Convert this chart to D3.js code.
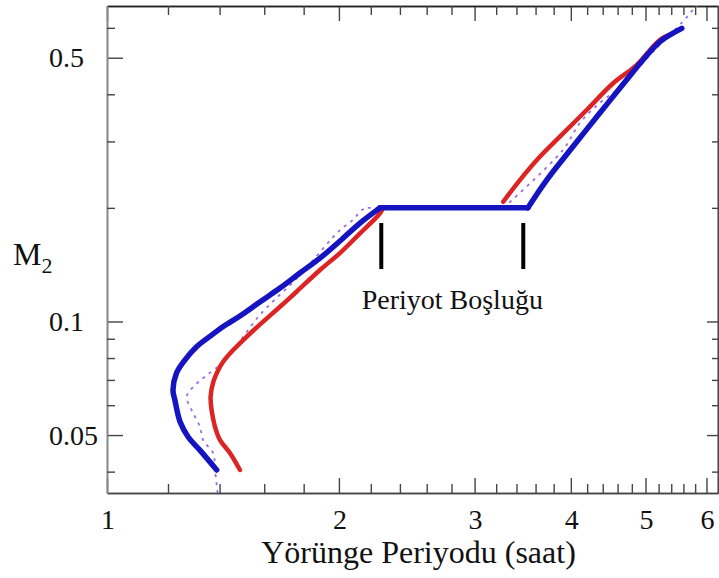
<!DOCTYPE html>
<html><head><meta charset="utf-8">
<script src="https://cdn.jsdelivr.net/npm/d3@7"></script>
<style>body{margin:0;background:#fff}svg{display:block}text{font-family:"Liberation Serif","Times New Roman",serif;fill:#111}</style>
</head><body>
<svg id="c" width="719" height="578"></svg>
<script>
// ---- data ----
const bluePeriod = [1.388,1.320,1.274,1.244,1.225,1.218,1.231,1.262,1.307,1.367,1.414,1.488,1.579,1.677,1.780,1.890,2.006,2.130,2.261,3.518,3.721,4.024,4.362,4.724,4.962,5.218,5.573];
const blueMass   = [0.0404,0.0456,0.0495,0.0542,0.0619,0.0658,0.0730,0.0790,0.0857,0.0920,0.0968,0.1034,0.1126,0.1226,0.1344,0.1472,0.1634,0.1823,0.2,0.2,0.237,0.2904,0.3568,0.4364,0.493,0.551,0.598];
const redPeriod  = [1.488,1.444,1.402,1.381,1.367,1.363,1.374,1.394,1.415,1.458,1.518,1.595,1.677,1.762,1.890,2.006,2.130,2.261,2.281,NaN,3.268,3.435,3.646,3.871,4.194,4.539,4.868,5.218,5.430];
const redMass    = [0.0404,0.0448,0.0485,0.0526,0.0582,0.0632,0.0692,0.0743,0.0782,0.0840,0.0911,0.0999,0.1094,0.1199,0.1369,0.1518,0.1712,0.1935,0.2,NaN,0.2076,0.237,0.2732,0.3088,0.3634,0.4277,0.478,0.557,0.580];
const dotPeriod  = [1.392,1.381,1.374,1.333,1.320,1.288,1.269,1.294,1.340,1.423,1.579,1.780,2.006,2.085,2.142,2.18,3.27,3.906,4.109,4.362,4.589,4.771,5.14,5.59,5.76,5.88];
const dotMass    = [0.0351,0.0404,0.0447,0.0485,0.0526,0.0582,0.0632,0.0671,0.0714,0.079,0.104,0.1327,0.1747,0.1857,0.1974,0.2,0.2,0.2846,0.3357,0.3793,0.4107,0.4445,0.524,0.623,0.669,0.698];
const gapPeriods = [2.27, 3.47];
const gapMassRange = [0.1377, 0.1824];
const gapLabel = "Periyot Boşluğu";
const xMajorTicks = [1,2,3,4,5,6];
const xMinorTicks = [1.2,1.4,1.6,1.8,2.2,2.4,2.6,2.8,3.2,3.4,3.6,3.8,4.2,4.4,4.6,4.8,5.2,5.4,5.6,5.8];
const yMajorTicks = [0.05,0.1,0.5];
const yMinorTicks = [0.04,0.06,0.07,0.08,0.09,0.2,0.3,0.4,0.6];
const xTitle = "Yörünge Periyodu (saat)";
const yTitle = "M";
const yTitleSub = "2";

// ---- layout ----
const L=107, R=718, T=6, B=493;
const x = d3.scaleLog().domain([1, 6.21]).range([L, R]);
const y = d3.scaleLog().domain([0.03511, 0.6855]).range([B, T]);
const svg = d3.select("#c");

svg.append("defs").append("clipPath").attr("id","clip")
  .append("rect").attr("x",L).attr("y",T).attr("width",R-L).attr("height",B-T);

// axes (frame + ticks)
function styleAxis(g, col){ g.select(".domain").attr("stroke",col).attr("stroke-width",1.6); g.selectAll(".tick line").attr("stroke","#444").attr("stroke-width",1.4); g.selectAll("text").remove(); }
const ax = [
  [d3.axisBottom(x).tickValues(xMajorTicks).tickSize(-15), `translate(0,${B})`, "#444"],
  [d3.axisBottom(x).tickValues(xMinorTicks).tickSize(-9), `translate(0,${B})`, "#444"],
  [d3.axisTop(x).tickValues(xMajorTicks).tickSize(-15), `translate(0,${T})`, "#222"],
  [d3.axisTop(x).tickValues(xMinorTicks).tickSize(-9), `translate(0,${T})`, "#222"],
  [d3.axisLeft(y).tickValues(yMajorTicks).tickSize(-16), `translate(${L},0)`, "#888"],
  [d3.axisLeft(y).tickValues(yMinorTicks).tickSize(-8), `translate(${L},0)`, "#888"],
  [d3.axisRight(y).tickValues(yMajorTicks).tickSize(-11), `translate(${R},0)`, "#444"],
  [d3.axisRight(y).tickValues(yMinorTicks).tickSize(-6), `translate(${R},0)`, "#444"]
];
ax.forEach(([a,t,c])=>{ const g=svg.append("g").attr("transform",t).call(a.tickSizeOuter(0)); styleAxis(g,c); });

// tick labels
svg.append("g").selectAll("text").data(xMajorTicks).join("text")
  .attr("x",d=>x(d)+1).attr("y",529).attr("text-anchor","middle").attr("font-size",28).text(d=>d);
svg.append("g").selectAll("text").data(yMajorTicks).join("text")
  .attr("x",49).attr("y",d=>y(d)+9.5).attr("text-anchor","start").attr("font-size",28).text(d=>d);

// titles
svg.append("text").attr("x",(262+575)/2).attr("y",563).attr("text-anchor","middle").attr("font-size",32).text(xTitle);
const mt = svg.append("text").attr("x",13).attr("y",265).attr("font-size",32);
mt.append("tspan").text(yTitle);
mt.append("tspan").attr("font-size",22).attr("dy",8).text(yTitleSub);

// curves: smooth runs, straight for flat (constant-mass) stretches
const plot = svg.append("g").attr("clip-path","url(#clip)");
const smooth = d3.line().x(d=>x(d[0])).y(d=>y(d[1])).curve(d3.curveCatmullRom.alpha(0.5));
const straight = d3.line().x(d=>x(d[0])).y(d=>y(d[1]));
function drawSeries(P, M, attrs){
  const pts = P.map((p,i)=>[p,M[i]]);
  const pieces = []; let run = [];
  for (let i=0;i<pts.length;i++){
    const p = pts[i];
    if (isNaN(p[0])) { if (run.length>1) pieces.push(["s",run]); run=[]; continue; }
    const q = pts[i+1];
    run.push(p);
    if (q && !isNaN(q[0]) && q[1]===p[1]) { // flat stretch
      if (run.length>1) pieces.push(["s",run]);
      pieces.push(["l",[p,q]]);
      run=[];
    }
  }
  if (run.length>1) pieces.push(["s",run]);
  pieces.forEach(([k,r])=>{
    const path = plot.append("path").attr("d",(k==="s"?smooth:straight)(r)).attr("fill","none");
    Object.entries(attrs).forEach(([a,v])=>path.attr(a,v));
  });
}
drawSeries(dotPeriod, dotMass, {"stroke":"#9a6ee0","stroke-width":1.8,"stroke-dasharray":"3,5"});
drawSeries(redPeriod, redMass, {"stroke":"#dd2424","stroke-width":4.5,"stroke-linejoin":"round","stroke-linecap":"round"});
drawSeries(bluePeriod, blueMass, {"stroke":"#1414c0","stroke-width":5.5,"stroke-linejoin":"round","stroke-linecap":"round"});

// period gap markers
svg.append("g").selectAll("line").data(gapPeriods).join("line")
  .attr("x1",d=>x(d)).attr("x2",d=>x(d)).attr("y1",y(gapMassRange[1])).attr("y2",y(gapMassRange[0]))
  .attr("stroke","#000").attr("stroke-width",4);
svg.append("text").attr("x",(x(gapPeriods[0])+x(gapPeriods[1]))/2).attr("y",309)
  .attr("text-anchor","middle").attr("font-size",28).text(gapLabel);
</script>
</body></html>
